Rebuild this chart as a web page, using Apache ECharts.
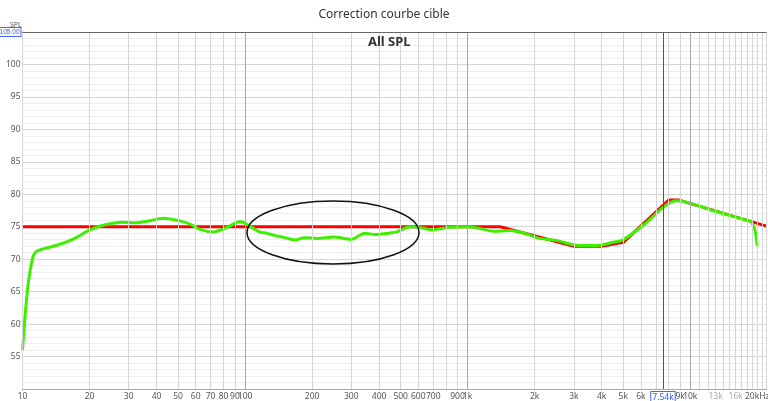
<!DOCTYPE html>
<html>
<head>
<meta charset="utf-8">
<script src="https://cdn.jsdelivr.net/npm/echarts@6/dist/echarts.min.js"></script>
<style>html,body{margin:0;padding:0;background:#fff}#c{width:768px;height:401px}</style>
</head>
<body>
<div id="c"></div>
<script>
// ---- data ----
var titleText = 'Correction courbe cible';
var traceName = 'All SPL';
var yTicks = [55, 60, 65, 70, 75, 80, 85, 90, 95, 100];
var xTickValues = [10,20,30,40,50,60,70,80,90,100,200,300,400,500,600,700,900,1000,2000,3000,4000,5000,6000,7540,9000,10000,13000,16000,20000];
var xTickLabels = ['10','20','30','40','50','60','70','80','90','100','200','300','400','500','600','700','900','1k','2k','3k','4k','5k','6k','7.54k','9k','10k','13k','16k','20kHz'];
var gridFreqs = [10,20,30,40,50,60,70,80,90,100,200,300,400,500,600,700,800,900,1000,2000,3000,4000,5000,6000,7000,8000,9000,10000,11000,12000,13000,14000,15000,16000,17000,18000,19000,20000,21000,22000];
var decadeFreqs = [100, 1000, 10000];
var cursorFreq = 7540;
var targetCurve = [[10,75],[1400,75],[3000,72],[4000,72],[5000,72.6],[8000,79.1],[8900,79.1],[22000,75.1]];
var measuredCurve = [
 [10,56.0],[10.55,65.5],[11.15,70.4],[11.7,71.3],[13.1,71.8],[14.7,72.3],[16.9,73.1],[20.1,74.5],[23.5,75.3],[27.9,75.7],
 [32,75.6],[36,75.8],[42.9,76.3],[51,75.9],[56.6,75.4],[62.7,74.6],[72,74.2],[83,74.9],[95,75.8],[105,75.1],
 [116,74.2],[125,74.0],[134,73.7],[148,73.4],[159,73.1],[167,72.95],[185,73.3],[212,73.2],[249,73.4],[283,73.15],
 [300,73.05],[345,74.0],[384,73.8],[440,74.0],[480,74.2],[550,75.0],[610,74.9],[690,74.5],[820,74.9],[1000,75.0],
 [1110,74.8],[1310,74.3],[1550,74.4],[1800,74.0],[2100,73.2],[2500,72.9],[3000,72.2],[3500,72.1],[4000,72.2],[4500,72.6],
 [5000,73.0],[6180,75.3],[7000,77.0],[7620,78.1],[8200,78.8],[8750,79.0],[10000,78.6],[13200,77.3],[17500,76.1],[18700,75.8],
 [19500,74.5],[20000,72.0]
];

function labelFor(v) {
  var best = 0, bd = 1e9;
  for (var i = 0; i < xTickValues.length; i++) {
    var d = Math.abs(Math.log(v / xTickValues[i]));
    if (d < bd) { bd = d; best = i; }
  }
  return best;
}

var gridLines = gridFreqs.map(function (f) {
  var dec = decadeFreqs.indexOf(f) >= 0;
  return { xAxis: f, lineStyle: { color: dec ? '#a8a8a8' : '#d6d6d6', width: 1, type: 'solid' } };
});
gridLines.push({ xAxis: cursorFreq, lineStyle: { color: '#555', width: 1, type: 'solid' } });
gridLines.push({ yAxis: 105, lineStyle: { color: '#666', width: 1, type: 'solid' } });

var chart = echarts.init(document.getElementById('c'), null, { renderer: 'canvas' });
var FONT = '"Noto Sans", "Open Sans", sans-serif';
chart.setOption({
  animation: false,
  backgroundColor: '#fff',
  textStyle: { fontFamily: FONT },
  title: {
    text: titleText, left: 'center', top: 4,
    textStyle: { fontSize: 12, fontWeight: 'normal', color: '#333', fontFamily: FONT }
  },
  grid: { left: 22.5, right: 1.5, top: 32, bottom: 12, containLabel: false, outerBoundsMode: 'none' },
  xAxis: {
    type: 'log', logBase: 10, min: 10, max: 22000,
    axisLine: { show: true, lineStyle: { color: '#aaa' } },
    axisTick: { show: false },
    splitLine: { show: false },
    minorSplitLine: { show: false },
    axisLabel: {
      customValues: xTickValues,
      hideOverlap: false,
      margin: 3,
      fontSize: 8.5,
      fontFamily: FONT,
      formatter: function (v) {
        var i = labelFor(v);
        if (xTickValues[i] === cursorFreq) return '{c|' + xTickLabels[i] + '}';
        if (xTickValues[i] === 13000 || xTickValues[i] === 16000) return '{g|' + xTickLabels[i] + '}';
        return xTickLabels[i];
      },
      color: '#555',
      rich: {
        c: { color: '#3355ee', borderColor: '#4466ff', borderWidth: 1, padding: [1, 1, 0, 1], fontSize: 8.5, backgroundColor: '#fff' },
        g: { color: '#aaa', fontSize: 8.5 }
      }
    }
  },
  yAxis: {
    type: 'value', min: 50, max: 105, interval: 5,
    axisLine: { show: true, lineStyle: { color: '#aaa' } },
    axisTick: { show: false },
    splitLine: { show: true, lineStyle: { color: '#d6d6d6' } },
    minorTick: { show: false, splitNumber: 5 },
    minorSplitLine: { show: true, lineStyle: { color: '#eeeeee' } },
    axisLabel: {
      margin: 2, fontSize: 8.5, color: '#555', fontFamily: FONT,
      showMinLabel: true, showMaxLabel: true,
      formatter: function (v) {
        if (v === 105) return '{b|105.00}';
        if (yTicks.indexOf(v) >= 0) return String(v);
        return '';
      },
      rich: {
        b: { color: '#3355ee', borderColor: '#4466ff', borderWidth: 1, padding: [1, 1, 0, 1], fontSize: 6.5,
             fontFamily: '"Liberation Sans", sans-serif', backgroundColor: '#fff' }
      }
    }
  },
  graphic: [
    { type: 'text', left: 10, top: 21, z: 1, style: { text: 'SPL', fontSize: 7, fill: '#555', fontFamily: FONT } },
    { type: 'text', left: 368, top: 36, z: 10,
      style: { text: traceName, fontSize: 13, fontWeight: 'bold', fill: '#333', fontFamily: FONT } },
    { type: 'ellipse', z: 20, shape: { cx: 333, cy: 232.5, rx: 86, ry: 31.5 },
      style: { fill: 'none', stroke: '#111', lineWidth: 1.5 } }
  ],
  series: [
    {
      type: 'line', name: 'grid', data: targetCurve, z: 1, silent: true,
      showSymbol: false, lineStyle: { opacity: 0, width: 0 },
      markLine: { silent: true, symbol: 'none', label: { show: false }, data: gridLines, animation: false }
    },
    {
      type: 'line', name: 'target', data: targetCurve, z: 3, showSymbol: false,
      lineStyle: { color: '#ff0000', width: 3 }
    },
    {
      type: 'line', name: 'measured', data: measuredCurve, z: 4, showSymbol: false, smooth: 0.3,
      lineStyle: { color: '#3cf000', width: 3 }
    }
  ]
});
</script>
</body>
</html>
